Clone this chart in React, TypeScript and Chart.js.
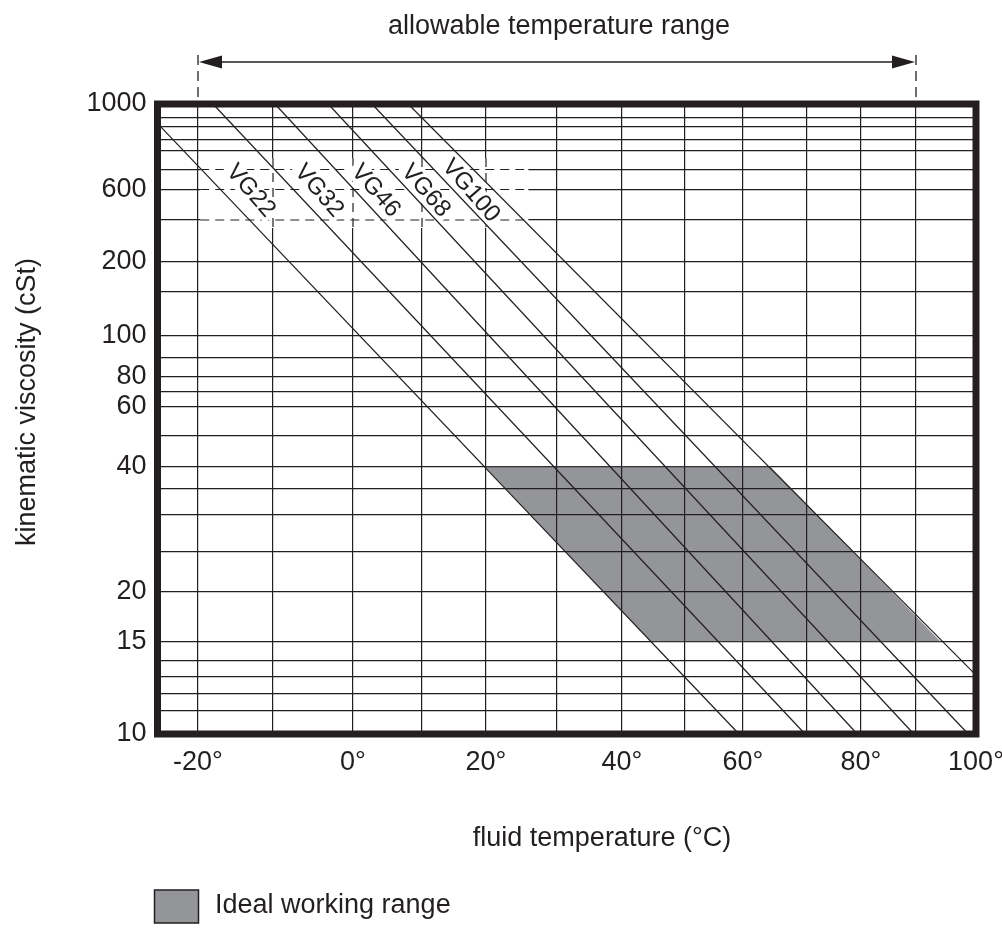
import React, { useEffect, useRef } from 'react';
import { Chart, registerables, LinearScale } from 'chart.js';

Chart.register(...registerables);

// ---------------- data ----------------
const tempGridValues = [-20, -10, 0, 10, 20, 30, 40, 50, 60, 70, 80, 90, 100];
const tempTickLabels = ['-20°', '', '0°', '', '20°', '', '40°', '', '60°', '', '80°', '', '100°'];

const viscGridValues = [10, 11, 12, 13, 14, 15, 20, 25, 30, 35, 40, 50, 60, 70, 80, 90, 100, 150, 200, 400, 600, 700, 750, 800, 850, 900, 1000];
const viscLabelled = [10, 15, 20, 40, 60, 80, 100, 200, 600, 1000];

const gradeNames = ['VG22', 'VG32', 'VG46', 'VG68', 'VG100', 'VG150'];
const gradeStartTemp = [-25.4, -18.0, -9.75, -3.1, 2.75, 8.0];
const gradeStartVisc = [869, 1000, 1000, 1000, 1000, 1000];
const gradeEndTemp = [59.3, 69.7, 79.3, 89.6, 98.7, 100];
const gradeEndVisc = [10, 10, 10, 10, 10, 13.1];
const gradeLabelTemp = [-12.97, -4.25, 3.29, 10.58, 17.6];
const gradeLabelVisc = [590, 590, 590, 590, 590];

const idealTemp = [19.9, 64.3, 94.1, 44.7, 19.9];
const idealVisc = [40, 40, 15, 15, 40];

const allowableRange = [-20, 90];

// ------------- axis calibration (hand-drawn chart scales) -------------
// value -> fraction of the plot width / height
const TEMP_AXIS: [number, number][] = [
  [-25.4, 0], [-20, 0.04948], [-10, 0.14111], [0, 0.23885], [10, 0.32315], [20, 0.40134],
  [30, 0.48809], [40, 0.5675], [50, 0.64447], [60, 0.71533], [70, 0.79352], [80, 0.8595],
  [90, 0.9267], [100, 1],
];
const VISC_AXIS: [number, number][] = [
  [10, 0], [11, 0.03698], [12, 0.0646], [13, 0.09095], [14, 0.11587], [15, 0.14651],
  [20, 0.22587], [25, 0.28937], [30, 0.34762], [35, 0.38889], [40, 0.42429], [50, 0.47302],
  [60, 0.51952], [70, 0.54333], [80, 0.56714], [90, 0.59683], [100, 0.63222], [150, 0.70206],
  [200, 0.74968], [400, 0.81587], [600, 0.86429], [700, 0.89603], [750, 0.92619], [800, 0.94286],
  [850, 0.96397], [900, 0.97778], [1000, 1],
];

const CALIBRATION: Record<string, { table: [number, number][]; log: boolean; ticks: number[] }> = {
  x: { table: TEMP_AXIS, log: false, ticks: tempGridValues },
  y: { table: VISC_AXIS, log: true, ticks: viscGridValues },
};

const Base: any = LinearScale;
class CalibratedScale extends Base {
  static id = 'calibrated';
  static defaults = {};
  cal() {
    return CALIBRATION[(this as any).id];
  }
  determineDataLimits() {
    const t = this.cal().table;
    (this as any).min = t[0][0];
    (this as any).max = t[t.length - 1][0];
  }
  buildTicks() {
    return this.cal().ticks.map((v: number) => ({ value: v }));
  }
  fracForValue(v: number) {
    const { table, log } = this.cal();
    const f = (a: number) => (log ? Math.log(Math.max(a, 1e-9)) : a);
    const n = table.length;
    let i = 0;
    if (v >= table[n - 1][0]) i = n - 2;
    else {
      while (i < n - 2 && v > table[i + 1][0]) i++;
    }
    const [v0, p0] = table[i];
    const [v1, p1] = table[i + 1];
    const t = (f(v) - f(v0)) / (f(v1) - f(v0));
    return p0 + t * (p1 - p0);
  }
  getPixelForValue(value: number) {
    const s: any = this;
    const fr = this.fracForValue(value);
    return s.isHorizontal() ? s.left + fr * s.width : s.bottom - fr * s.height;
  }
  getValueForPixel(pixel: number) {
    const s: any = this;
    const { table, log } = this.cal();
    const fr = s.isHorizontal() ? (pixel - s.left) / s.width : (s.bottom - pixel) / s.height;
    const n = table.length;
    let i = 0;
    while (i < n - 2 && fr > table[i + 1][1]) i++;
    const [v0, p0] = table[i];
    const [v1, p1] = table[i + 1];
    const t = (fr - p0) / (p1 - p0);
    return log ? Math.exp(Math.log(v0) + t * (Math.log(v1) - Math.log(v0))) : v0 + t * (v1 - v0);
  }
}
Chart.register(CalibratedScale as any);

// ---------------- styles ----------------
const INK = '#231f20';
const GREY = '#939598';
const FONT = "'Liberation Sans', Arial, Helvetica, sans-serif";
const LABEL_ANGLE = (49 * Math.PI) / 180;
const knockTemp = [-19.7, 26.0];
const knockVisc = [350, 730];

const decorPlugin = {
  id: 'viscosityDecor',
  beforeDatasetsDraw(chart: any) {
    const { ctx, scales } = chart;
    const x = scales.x;
    const y = scales.y;
    const x0 = x.getPixelForValue(knockTemp[0]);
    const x1 = x.getPixelForValue(knockTemp[1]);
    const yTop = y.getPixelForValue(knockVisc[1]);
    const yBot = y.getPixelForValue(knockVisc[0]);
    ctx.save();
    ctx.beginPath();
    ctx.rect(x0, yTop, x1 - x0, yBot - yTop);
    ctx.clip();
    ctx.fillStyle = '#ffffff';
    ctx.fillRect(x0, yTop, x1 - x0, yBot - yTop);
    ctx.strokeStyle = INK;
    ctx.lineWidth = 1.2;
    ctx.setLineDash([9, 6]);
    for (const v of tempGridValues) {
      const px = x.getPixelForValue(v);
      if (px > x0 && px < x1) {
        ctx.beginPath();
        ctx.moveTo(px, yTop);
        ctx.lineTo(px, yBot);
        ctx.stroke();
      }
    }
    for (const v of viscGridValues) {
      const py = y.getPixelForValue(v);
      if (py > yTop && py < yBot) {
        ctx.beginPath();
        ctx.moveTo(x0, py);
        ctx.lineTo(x1, py);
        ctx.stroke();
      }
    }
    ctx.restore();
    // white backing behind grade labels
    ctx.save();
    ctx.font = `24px ${FONT}`;
    ctx.fillStyle = '#ffffff';
    gradeLabelTemp.forEach((t, i) => {
      const px = x.getPixelForValue(t);
      const py = y.getPixelForValue(gradeLabelVisc[i]);
      const w = ctx.measureText(gradeNames[i]).width;
      ctx.save();
      ctx.translate(px, py);
      ctx.rotate(LABEL_ANGLE);
      ctx.fillRect(-w / 2 - 3, -11, w + 6, 22);
      ctx.restore();
    });
    ctx.restore();
  },
  afterDatasetDraw(chart: any, args: any) {
    if (args.index !== 0) return;
    const { ctx, chartArea } = chart;
    const pts = args.meta.data;
    ctx.save();
    ctx.beginPath();
    pts.forEach((p: any, i: number) => (i === 0 ? ctx.moveTo(p.x, p.y) : ctx.lineTo(p.x, p.y)));
    ctx.closePath();
    ctx.clip();
    chart.scales.x.drawGrid(chartArea);
    chart.scales.y.drawGrid(chartArea);
    ctx.restore();
  },
  afterDatasetsDraw(chart: any) {
    const { ctx, chartArea: a, scales } = chart;
    const x = scales.x;
    const y = scales.y;
    // grade labels
    ctx.save();
    ctx.font = `24px ${FONT}`;
    ctx.fillStyle = INK;
    ctx.textAlign = 'center';
    ctx.textBaseline = 'middle';
    gradeLabelTemp.forEach((t, i) => {
      const px = x.getPixelForValue(t);
      const py = y.getPixelForValue(gradeLabelVisc[i]);
      ctx.save();
      ctx.translate(px, py);
      ctx.rotate(LABEL_ANGLE);
      ctx.fillText(gradeNames[i], 0, 0);
      ctx.restore();
    });
    ctx.restore();
    // thick frame
    ctx.save();
    ctx.strokeStyle = INK;
    ctx.lineWidth = 7;
    ctx.strokeRect(a.left, a.top, a.right - a.left, a.bottom - a.top);
    ctx.restore();
  },
  afterDraw(chart: any) {
    const { ctx, chartArea: a, scales } = chart;
    const x = scales.x;
    ctx.save();
    ctx.fillStyle = INK;
    ctx.strokeStyle = INK;
    ctx.font = `27px ${FONT}`;
    ctx.textBaseline = 'alphabetic';
    ctx.textAlign = 'center';
    // top annotation
    ctx.fillText('allowable temperature range', 559, 34);
    const xl = x.getPixelForValue(allowableRange[0]);
    const xr = x.getPixelForValue(allowableRange[1]);
    const ay = 62;
    ctx.lineWidth = 1.6;
    ctx.beginPath();
    ctx.moveTo(xl + 10, ay);
    ctx.lineTo(xr - 10, ay);
    ctx.stroke();
    ctx.beginPath();
    ctx.moveTo(xl + 1, ay);
    ctx.lineTo(xl + 24, ay - 6.5);
    ctx.lineTo(xl + 24, ay + 6.5);
    ctx.closePath();
    ctx.fill();
    ctx.beginPath();
    ctx.moveTo(xr - 1, ay);
    ctx.lineTo(xr - 24, ay - 6.5);
    ctx.lineTo(xr - 24, ay + 6.5);
    ctx.closePath();
    ctx.fill();
    ctx.lineWidth = 1.3;
    ctx.setLineDash([10, 6]);
    ctx.beginPath();
    ctx.moveTo(xl, 55);
    ctx.lineTo(xl, a.top);
    ctx.moveTo(xr, 55);
    ctx.lineTo(xr, a.top);
    ctx.stroke();
    ctx.setLineDash([]);
    // axis titles
    ctx.fillText('fluid temperature (°C)', 602, 846);
    ctx.save();
    ctx.translate(35, 402);
    ctx.rotate(-Math.PI / 2);
    ctx.fillText('kinematic viscosity (cSt)', 0, 0);
    ctx.restore();
    // legend
    ctx.fillStyle = GREY;
    ctx.fillRect(a.left - 3, 890, 44, 33);
    ctx.lineWidth = 1.5;
    ctx.strokeRect(a.left - 3, 890, 44, 33);
    ctx.fillStyle = INK;
    ctx.textAlign = 'left';
    ctx.fillText('Ideal working range', 215, 913);
    ctx.restore();
  },
};

export default function App() {
  const ref = useRef<HTMLCanvasElement>(null);
  useEffect(() => {
    const canvas = ref.current;
    if (!canvas) return;
    Chart.defaults.font.family = FONT;
    Chart.defaults.color = INK;
    const datasets: any[] = [
      {
        label: 'Ideal working range',
        data: idealTemp.map((t, i) => ({ x: t, y: idealVisc[i] })),
        backgroundColor: GREY,
        borderColor: 'rgba(0,0,0,0)',
        borderWidth: 0,
        fill: 'shape',
        pointRadius: 0,
        order: 1,
      },
      ...gradeNames.map((name, i) => ({
        label: name,
        data: [
          { x: gradeStartTemp[i], y: gradeStartVisc[i] },
          { x: gradeEndTemp[i], y: gradeEndVisc[i] },
        ],
        borderColor: INK,
        borderWidth: 1.2,
        pointRadius: 0,
        fill: false,
        order: 0,
      })),
    ];
    const chart = new Chart(canvas, {
      type: 'line',
      data: { datasets },
      options: {
        responsive: false,
        animation: false,
        events: [],
        layout: { padding: { left: 0, top: 104, right: 26, bottom: 155 }, autoPadding: false },
        plugins: { legend: { display: false }, tooltip: { enabled: false }, title: { display: false } },
        scales: {
          x: {
            type: 'calibrated',
            position: 'bottom',
            afterFit: (s: any) => {
              s.height = 40;
              s.paddingLeft = 0;
              s.paddingRight = 0;
              s.paddingTop = 0;
              s.paddingBottom = 0;
            },
            grid: { color: INK, lineWidth: 1.2, drawTicks: false },
            border: { display: false },
            ticks: {
              autoSkip: false,
              maxRotation: 0,
              minRotation: 0,
              padding: 12,
              color: INK,
              font: { size: 27 },
              callback: (_v: any, i: number) => tempTickLabels[i],
            },
          },
          y: {
            type: 'calibrated',
            position: 'left',
            afterFit: (s: any) => {
              s.width = 157.5;
              s.paddingLeft = 0;
              s.paddingRight = 0;
              s.paddingTop = 0;
              s.paddingBottom = 0;
            },
            grid: { color: INK, lineWidth: 1.2, drawTicks: false },
            border: { display: false },
            ticks: {
              autoSkip: false,
              padding: 11,
              color: INK,
              font: { size: 27 },
              callback: (v: any) => (viscLabelled.includes(Number(v)) ? String(v) : ''),
            },
          },
        } as any,
      },
      plugins: [decorPlugin],
    } as any);
    return () => chart.destroy();
  }, []);
  return (
    <div style={{ position: 'absolute', left: 0, top: 0, width: 1002, height: 929, background: '#ffffff' }}>
      <canvas ref={ref} width={1002} height={929} style={{ display: 'block', width: 1002, height: 929 }} />
    </div>
  );
}
